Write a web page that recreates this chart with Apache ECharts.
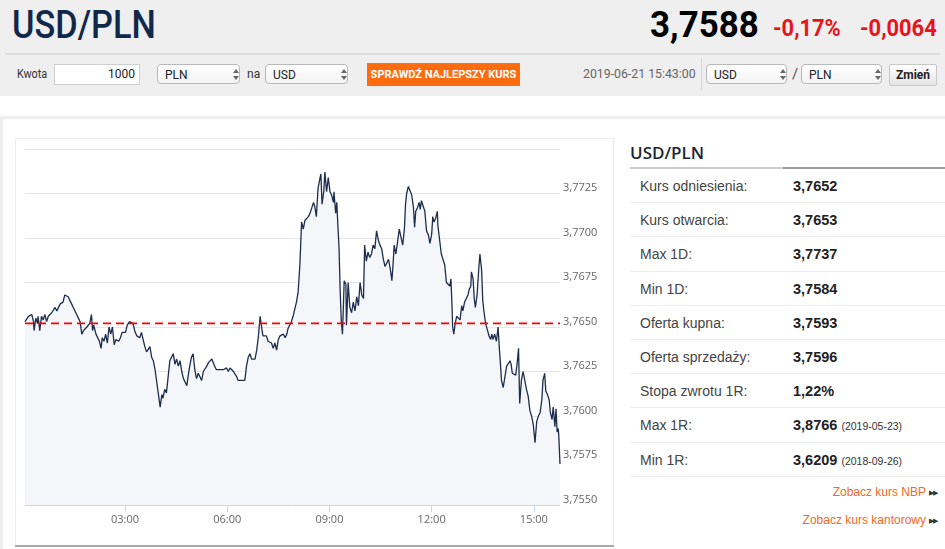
<!DOCTYPE html>
<html>
<head>
<meta charset="utf-8">
<script src="https://cdn.jsdelivr.net/npm/echarts@6/dist/echarts.min.js"></script>
<style>
  html,body{margin:0;padding:0;}
  body{width:945px;height:549px;overflow:hidden;position:relative;background:#fff;font-family:"Liberation Sans",Arial,sans-serif;color:#333;}
  .abs{position:absolute;white-space:nowrap;}
  #top{position:absolute;left:0;top:0;width:945px;height:96px;background:#efefef;}
  .cond{font-family:Roboto,"Liberation Sans",sans-serif;transform-origin:left center;}
  .sel{position:absolute;height:20px;border:1px solid #b9b9b9;border-radius:4px;background:linear-gradient(#ffffff,#f3f3f3);font-family:Roboto,sans-serif;font-size:12px;line-height:20px;padding-left:7px;box-sizing:border-box;color:#222;}
  .sel .ar{position:absolute;right:6px;top:4px;width:0;height:0;}
  .sel .ar:before{content:"";position:absolute;left:0;top:0;border-left:3px solid transparent;border-right:3px solid transparent;border-bottom:4px solid #666;}
  .sel .ar:after{content:"";position:absolute;left:0;top:7px;border-left:3px solid transparent;border-right:3px solid transparent;border-top:4px solid #666;}
  .row{position:absolute;left:0;width:315px;height:34.2px;border-bottom:1px solid #ececec;box-sizing:border-box;}
  .row .lb{position:absolute;left:10px;top:0;line-height:34px;font-size:14px;color:#444;}
  .row .vl{position:absolute;left:163px;top:0;line-height:34px;font-size:14.5px;font-weight:bold;color:#222;}
  .row .vl small{font-weight:normal;font-size:10.5px;color:#333;}
  .lnk{position:absolute;right:8px;font-size:12px;color:#f26a21;}
  .lnk span{color:#333;font-size:7px;vertical-align:1px;letter-spacing:-1px;margin-left:3px;}
</style>
</head>
<body>
<div id="top"></div>
<div class="abs cond" style="left:12px;top:2px;font-size:39px;line-height:46px;font-weight:500;color:#12284a;transform:scaleX(0.88);">USD/PLN</div>
<div class="abs cond" style="left:650px;top:2px;font-size:36px;line-height:46px;font-weight:bold;color:#000;transform:scaleX(0.97);">3,7588</div>
<div class="abs cond" style="left:773px;top:9px;font-size:23px;line-height:40px;font-weight:bold;color:#e8141c;transform:scaleX(0.95);">-0,17%</div>
<div class="abs cond" style="left:860px;top:9px;font-size:23px;line-height:40px;font-weight:bold;color:#e8141c;transform:scaleX(0.95);">-0,0064</div>
<div class="abs" style="left:5px;top:53px;width:935px;height:2px;background:#dedede;"></div>

<div class="abs cond" style="left:17px;top:66px;font-size:12px;line-height:16px;color:#333;transform:scaleX(0.9);">Kwota</div>
<div class="abs" style="left:54px;top:64px;width:86px;height:21px;border:1px solid #cfcfcf;background:#fff;box-sizing:border-box;font-family:Roboto,sans-serif;font-size:12px;line-height:19px;text-align:right;padding-right:4px;color:#222;">1000</div>
<div class="sel" style="left:157px;top:64px;width:83px;">PLN<div class="ar"></div></div>
<div class="abs cond" style="left:247px;top:66px;font-size:12px;line-height:16px;color:#333;">na</div>
<div class="sel" style="left:265px;top:64px;width:83px;">USD<div class="ar"></div></div>
<div class="abs" style="left:367px;top:63px;width:153px;height:23px;background:#ff6c0f;font-family:Roboto,sans-serif;font-size:11px;line-height:23px;font-weight:bold;color:#fff;text-align:center;">SPRAWDŹ NAJLEPSZY KURS</div>
<div class="abs cond" style="left:583px;top:67px;font-size:12.3px;line-height:14px;color:#666;">2019-06-21 15:43:00</div>
<div class="abs" style="left:701px;top:58px;width:1px;height:32px;background:#d8d8d8;"></div>
<div class="sel" style="left:706px;top:64px;width:81px;">USD<div class="ar"></div></div>
<div class="abs cond" style="left:792px;top:64px;font-size:15px;line-height:20px;color:#555;">/</div>
<div class="sel" style="left:801px;top:64px;width:81px;">PLN<div class="ar"></div></div>
<div class="abs" style="left:889px;top:64px;width:48px;height:22px;border:1px solid #c8c8c8;border-radius:2px;background:linear-gradient(#ffffff,#e4e4e4);box-sizing:border-box;font-family:Roboto,sans-serif;font-size:12px;font-weight:bold;line-height:20px;text-align:center;color:#222;">Zmień</div>

<div class="abs" style="left:0;top:116px;width:945px;height:3px;background:#eeeeee;"></div>
<div class="abs" style="left:0;top:116px;width:3px;height:433px;background:#eeeeee;"></div>

<div class="abs" style="left:15px;top:138px;width:599px;height:407px;border-top:1px solid #ececec;border-left:1px solid #ececec;border-right:1px solid #ececec;box-sizing:border-box;"></div>
<div class="abs" style="left:15px;top:545px;width:599px;height:2px;background:#a9a9a9;"></div>
<div id="chart" style="position:absolute;left:15px;top:138px;width:599px;height:407px;"></div>

<div class="abs" style="left:630px;top:140px;width:315px;height:409px;">
  <div class="abs" style="left:0;top:1px;font-family:'Open Sans',sans-serif;font-size:17px;font-weight:600;line-height:24px;color:#1c2636;">USD/PLN</div>
  <div class="abs" style="left:0;top:27px;width:153px;height:2px;background:#cccccc;"></div>
  <div class="abs" style="left:153px;top:27px;width:162px;height:2px;background:#9c9c9c;"></div>
  <div id="rows" class="abs" style="left:0;top:29px;width:315px;"></div>
  <div class="lnk" style="top:345px;">Zobacz kurs NBP<span>&#9654;&#9654;</span></div>
  <div class="lnk" style="top:373px;">Zobacz kurs kantorowy<span>&#9654;&#9654;</span></div>
</div>

<script>
// ---- data ----
const minutes = [
  4,10,16,19,20,23,26,27,30,33,
  36,39,42,45,48,51,54,57,60,63,
  66,69,71,74,77,80,83,86,89,92,
  95,98,101,104,107,110,113,115,118,121,
  123,125,129,132,135,138,140,143,146,149,
  152,155,158,161,164,166,169,172,175,178,
  181,184,188,191,194,198,201,203,206,209,
  212,215,218,221,224,227,230,233,236,239,
  242,245,247,250,253,256,259,262,265,268,
  271,274,277,280,283,286,289,291,294,297,
  300,303,306,309,312,315,318,321,324,327,
  330,333,335,338,341,344,347,350,353,356,
  359,362,365,368,371,374,377,379,382,385,
  388,391,394,397,400,403,406,409,412,415,
  418,421,423,426,429,432,435,438,441,444,
  447,450,453,456,459,462,465,467,470,473,
  476,479,482,485,488,491,494,497,500,503,
  506,509,512,514,517,520,523,525,527,530,
  532,535,538,541,544,547,548,551,553,554,
  557,559,561,563,566,569,570,573,576,579,
  582,585,588,591,594,597,600,602,605,608,
  611,614,617,620,623,626,629,632,635,638,
  641,644,647,650,652,654,657,660,663,666,
  669,672,674,676,679,682,685,688,690,692,
  695,698,700,702,705,708,711,714,717,720,
  722,724,727,730,731,734,737,740,743,746,
  749,752,754,756,757,759,761,764,767,770,
  773,775,778,781,784,786,789,790,793,795,
  797,800,803,805,808,810,812,815,818,821,
  824,826,828,831,834,837,839,841,843,846,
  849,852,855,858,860,862,865,868,871,873,
  875,878,881,884,887,890,893,896,899,902,
  905,908,911,914,916,919,921,924,927,929,
  932,934,937,939,941,943,944,946
];
const rates = [
  3.7653,3.7656,3.7657,3.7653,3.7648,3.7655,3.7652,3.7656,3.7648,3.7656,
  3.7654,3.7657,3.7653,3.7656,3.7655,3.7658,3.7657,3.7661,3.7659,3.7660,
  3.7663,3.7662,3.7664,3.7668,3.7669,3.7667,3.7666,3.7663,3.7661,3.7659,
  3.7657,3.7655,3.7653,3.7646,3.7648,3.7647,3.7650,3.7649,3.7652,3.7657,
  3.7648,3.7651,3.7646,3.7645,3.7642,3.7638,3.7644,3.7642,3.7646,3.7641,
  3.7650,3.7646,3.7650,3.7640,3.7643,3.7643,3.7642,3.7644,3.7647,3.7648,
  3.7647,3.7651,3.7653,3.7654,3.7652,3.7647,3.7645,3.7646,3.7644,3.7647,
  3.7646,3.7639,3.7636,3.7635,3.7639,3.7633,3.7631,3.7626,3.7619,3.7612,
  3.7605,3.7612,3.7610,3.7615,3.7613,3.7622,3.7631,3.7633,3.7635,3.7629,
  3.7632,3.7628,3.7631,3.7625,3.7621,3.7620,3.7617,3.7622,3.7628,3.7633,
  3.7635,3.7626,3.7621,3.7624,3.7622,3.7620,3.7625,3.7626,3.7628,3.7630,
  3.7631,3.7632,3.7631,3.7628,3.7626,3.7625,3.7626,3.7625,3.7626,3.7625,
  3.7627,3.7625,3.7627,3.7626,3.7625,3.7624,3.7622,3.7620,3.7621,3.7620,
  3.7621,3.7620,3.7628,3.7633,3.7635,3.7632,3.7631,3.7632,3.7637,3.7645,
  3.7656,3.7649,3.7645,3.7646,3.7645,3.7642,3.7643,3.7641,3.7638,3.7641,
  3.7637,3.7643,3.7645,3.7644,3.7646,3.7644,3.7646,3.7649,3.7651,3.7653,
  3.7656,3.7660,3.7664,3.7670,3.7685,3.7709,3.7705,3.7710,3.7711,3.7712,
  3.7714,3.7713,3.7720,3.7718,3.7712,3.7728,3.7733,3.7736,3.7719,3.7726,
  3.7737,3.7726,3.7734,3.7726,3.7724,3.7720,3.7726,3.7714,3.7720,3.7713,
  3.7694,3.7670,3.7653,3.7646,3.7676,3.7674,3.7651,3.7675,3.7661,3.7658,
  3.7664,3.7659,3.7667,3.7662,3.7675,3.7668,3.7666,3.7696,3.7687,3.7692,
  3.7689,3.7691,3.7696,3.7694,3.7704,3.7699,3.7696,3.7694,3.7688,3.7684,
  3.7685,3.7688,3.7683,3.7676,3.7685,3.7696,3.7691,3.7698,3.7705,3.7704,
  3.7696,3.7705,3.7719,3.7725,3.7729,3.7728,3.7724,3.7717,3.7706,3.7715,
  3.7717,3.7720,3.7716,3.7721,3.7720,3.7715,3.7704,3.7702,3.7697,3.7702,
  3.7712,3.7709,3.7711,3.7715,3.7707,3.7699,3.7691,3.7688,3.7685,3.7675,
  3.7674,3.7673,3.7677,3.7661,3.7650,3.7646,3.7651,3.7656,3.7657,3.7654,
  3.7662,3.7659,3.7664,3.7666,3.7668,3.7671,3.7673,3.7681,3.7677,3.7666,
  3.7661,3.7668,3.7683,3.7691,3.7682,3.7665,3.7659,3.7652,3.7651,3.7645,
  3.7643,3.7646,3.7643,3.7646,3.7642,3.7650,3.7639,3.7630,3.7620,3.7616,
  3.7622,3.7628,3.7628,3.7631,3.7629,3.7624,3.7625,3.7623,3.7631,3.7638,
  3.7607,3.7620,3.7625,3.7620,3.7615,3.7611,3.7603,3.7600,3.7595,3.7585,
  3.7597,3.7600,3.7602,3.7609,3.7620,3.7624,3.7614,3.7612,3.7609,3.7602,
  3.7598,3.7605,3.7594,3.7604,3.7591,3.7593,3.7588,3.7573
];
const referenceRate = 3.7652;
const xTickMinutes = [180, 360, 540, 720, 900];   // 03:00 ... 15:00
const yMin = 3.7550, yMax = 3.7750, yStep = 0.0025;

const tableLabels = ['Kurs odniesienia:', 'Kurs otwarcia:', 'Max 1D:', 'Min 1D:', 'Oferta kupna:', 'Oferta sprzedaży:', 'Stopa zwrotu 1R:', 'Max 1R:', 'Min 1R:'];
const tableValues = ['3,7652', '3,7653', '3,7737', '3,7584', '3,7593', '3,7596', '1,22%', '3,8766', '3,6209'];
const tableDates  = ['', '', '', '', '', '', '', '(2019-05-23)', '(2018-09-26)'];

// ---- table ----
const rowsEl = document.getElementById('rows');
tableLabels.forEach((lb, i) => {
  const r = document.createElement('div');
  r.className = 'row';
  r.style.top = (i * 34.2) + 'px';
  r.innerHTML = '<div class="lb">' + lb + '</div><div class="vl">' + tableValues[i] +
    (tableDates[i] ? ' <small>' + tableDates[i] + '</small>' : '') + '</div>';
  rowsEl.appendChild(r);
});

// ---- chart ----
const pad = n => (n < 10 ? '0' : '') + n;
const hhmm = m => pad(Math.floor(m / 60)) + ':' + pad(Math.round(m % 60));
const seriesData = minutes.map((m, i) => [m, rates[i]]);
const xStart = minutes[0], xEnd = minutes[minutes.length - 1];

const chart = echarts.init(document.getElementById('chart'), null, {renderer: 'canvas'});
chart.setOption({
  animation: false,
  grid: {left: 10, right: 54, top: 11, bottom: 40, containLabel: false},
  xAxis: {
    type: 'value',
    min: xStart,
    max: xEnd,
    axisLine: {show: true, lineStyle: {color: '#ccd6eb', width: 1}},
    axisTick: {show: true, customValues: xTickMinutes, length: 7, lineStyle: {color: '#ccd6eb'}},
    axisLabel: {customValues: xTickMinutes, formatter: v => hhmm(v), color: '#666666', fontSize: 11,
      margin: 9, fontFamily: 'Open Sans, sans-serif'},
    splitLine: {show: false}
  },
  yAxis: {
    type: 'value',
    position: 'right',
    min: yMin, max: yMax, interval: yStep,
    axisLine: {show: false},
    axisTick: {show: false},
    axisLabel: {
      formatter: v => v.toFixed(4).replace('.', ','),
      color: '#666666', fontSize: 11, margin: 3, verticalAlign: 'bottom',
      showMaxLabel: false, fontFamily: 'Open Sans, sans-serif'
    },
    splitLine: {show: true, lineStyle: {color: '#e6e6e6', width: 1}}
  },
  series: [{
    type: 'line',
    data: seriesData,
    showSymbol: false,
    symbol: 'none',
    lineStyle: {color: '#1d2d4d', width: 1.3},
    areaStyle: {color: '#f4f6f9', origin: 'start', opacity: 1},
    z: 3
  }, {
    type: 'line',
    data: [[xStart, referenceRate], [xEnd, referenceRate]],
    showSymbol: false,
    symbol: 'none',
    silent: true,
    lineStyle: {color: '#ff0000', type: [8, 5], width: 1.8},
    z: 4
  }]
});
</script>
</body>
</html>
